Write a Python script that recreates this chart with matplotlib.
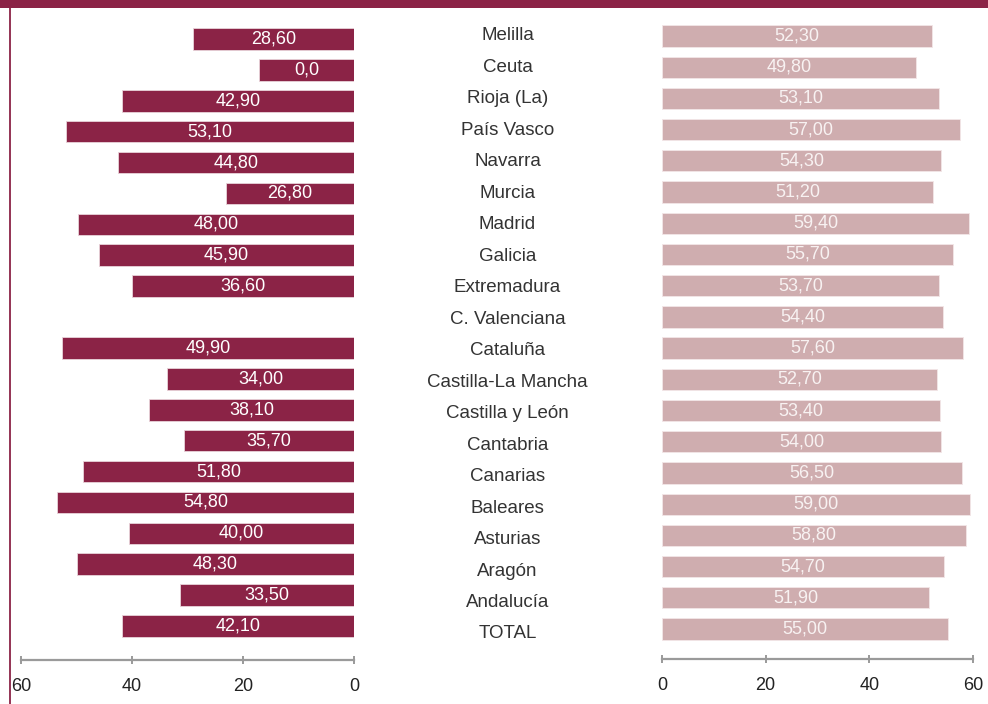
import matplotlib
matplotlib.use("Agg")
import matplotlib.pyplot as plt
from matplotlib.patches import Rectangle
from matplotlib.lines import Line2D

plt.rcParams['font.family'] = ['Liberation Sans', 'DejaVu Sans']

categories = ["Melilla", "Ceuta", "Rioja (La)", "País Vasco", "Navarra", "Murcia",
              "Madrid", "Galicia", "Extremadura", "C. Valenciana", "Cataluña",
              "Castilla-La Mancha", "Castilla y León", "Cantabria", "Canarias",
              "Baleares", "Asturias", "Aragón", "Andalucía", "TOTAL"]

# left series: bar lengths as drawn, and the printed labels
left_values = [29.0, 17.1, 41.8, 51.9, 42.5, 23.1, 49.7, 45.9, 40.0, 0.0,
               52.6, 33.7, 36.9, 30.6, 48.8, 53.5, 40.5, 49.9, 31.4, 41.8]
left_labels = ["28,60", "0,0", "42,90", "53,10", "44,80", "26,80", "48,00", "45,90",
               "36,60", "", "49,90", "34,00", "38,10", "35,70", "51,80", "54,80",
               "40,00", "48,30", "33,50", "42,10"]

# right series
right_values = [52.1, 49.0, 53.4, 57.5, 53.8, 52.3, 59.2, 56.1, 53.4, 54.2,
                58.1, 53.1, 53.6, 53.8, 57.9, 59.4, 58.7, 54.4, 51.5, 55.2]
right_labels = ["52,30", "49,80", "53,10", "57,00", "54,30", "51,20", "59,40", "55,70",
                "53,70", "54,40", "57,60", "52,70", "53,40", "54,00", "56,50", "59,00",
                "58,80", "54,70", "51,90", "55,00"]

ticks = [0, 20, 40, 60]

W, H = 988, 704
DARK = "#8B2346"
LIGHT = "#CFADAF"
AXIS = "#9a9a9a"

fig = plt.figure(figsize=(W / 100, H / 100), dpi=100)
fig.patch.set_facecolor("white")

n = len(categories)
rows = [n - 1 - i for i in range(n)]


def px_axes(x0, x1, y0, y1):
    return fig.add_axes([x0 / W, 1 - y1 / H, (x1 - x0) / W, (y1 - y0) / H])


def ylim_for(top_px, bot_px, first_px, last_px):
    per = (last_px - first_px) / (n - 1)
    lo = 0 - (bot_px - last_px) / per
    hi = (n - 1) + (first_px - top_px) / per
    return lo, hi


# banner and left rule
fig.add_artist(Rectangle((0, 1 - 8 / H), 1, 8 / H, transform=fig.transFigure,
                         color=DARK, lw=0))
fig.add_artist(Line2D([9.5 / W, 9.5 / W], [0, 1 - 8 / H], transform=fig.transFigure,
                      color=DARK, lw=1.3))

# left axes
axL = px_axes(21, 354, 10, 660)
axL.barh(rows, left_values, height=0.70, color=DARK, edgecolor="#e9d3da", linewidth=0.6)
for r, v, lab in zip(rows, left_values, left_labels):
    if lab:
        axL.text(v / 2, r, lab, ha="center", va="center", color="white", fontsize=13)
axL.set_xlim(60, 0)
axL.set_ylim(*ylim_for(10, 660, 39, 626))

# right axes
axR = px_axes(662, 973, 10, 659)
axR.barh(rows, right_values, height=0.68, color=LIGHT, edgecolor="#f3e6e7", linewidth=0.6)
for r, v, lab in zip(rows, right_values, right_labels):
    axR.text(v / 2, r, lab, ha="center", va="center", color="#f8f2f2", fontsize=13)
axR.set_xlim(0, 60)
axR.set_ylim(*ylim_for(10, 659, 36, 629))

for ax in (axL, axR):
    ax.set_facecolor("none")
    for s in ("top", "left", "right"):
        ax.spines[s].set_visible(False)
    ax.spines["bottom"].set_color(AXIS)
    ax.spines["bottom"].set_linewidth(1.6)
    ax.set_yticks([])
    ax.set_xticks(ticks)
    ax.set_xticklabels([str(t) for t in ticks])
    ax.tick_params(axis="x", direction="inout", length=6, width=1.4, color=AXIS,
                   labelsize=13, labelcolor="#222222", pad=10)

# middle category labels
axM = px_axes(400, 615, 10, 660)
axM.set_axis_off()
axM.set_xlim(0, 1)
axM.set_ylim(*ylim_for(10, 660, 36, 634))
for r, c in zip(rows, categories):
    axM.text(0.5, r, c, ha="center", va="center", color="#333333", fontsize=13.5)

fig.savefig("out.png", dpi=100, facecolor="white")
